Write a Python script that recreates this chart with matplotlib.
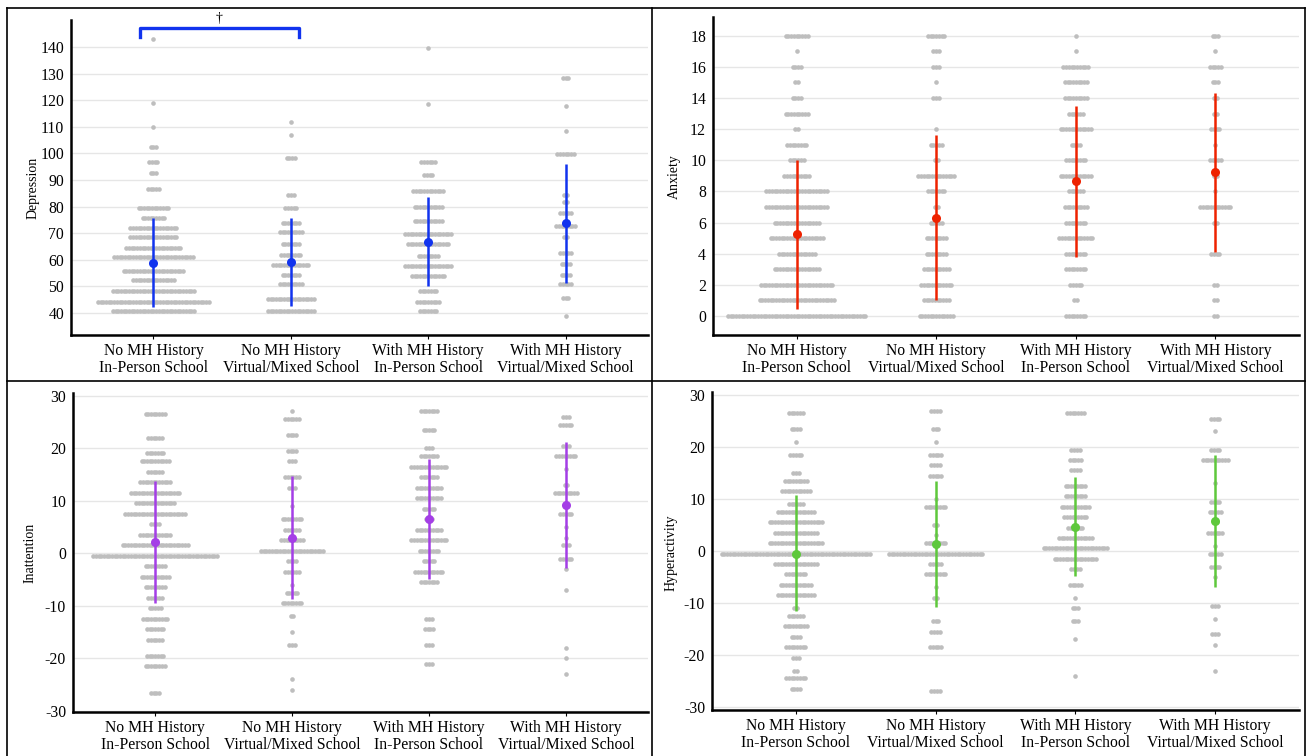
import numpy as np
import matplotlib
matplotlib.use('Agg')
import matplotlib.pyplot as plt
from matplotlib.lines import Line2D

plt.rcParams['font.family'] = ['Liberation Serif', 'DejaVu Serif']
plt.rcParams['axes.unicode_minus'] = False

# group labels
groups = ['No MH History\nIn-Person School', 'No MH History\nVirtual/Mixed School',
          'With MH History\nIn-Person School', 'With MH History\nVirtual/Mixed School']

# Depression: binned score rows and dot counts per group
dep_values = [
    [143, 119, 110, 102.5, 96.6, 92.75, 86.75, 79.6, 75.6, 72, 68.5, 64.5, 60.9, 55.75, 52.25, 48.25, 44.25, 40.75],
    [112, 107, 98.4, 84.25, 79.6, 74, 70.4, 65.9, 61.9, 58.1, 54.25, 50.9, 45.25, 40.75],
    [139.6, 118.75, 96.6, 91.75, 85.9, 80, 74.6, 69.6, 66.1, 61.6, 57.75, 54, 48.25, 44.25, 40.75],
    [128.4, 117.75, 108.4, 99.75, 84.4, 81.6, 77.75, 72.75, 68.5, 62.5, 58.5, 54.4, 50.75, 45.5, 39],
]
dep_counts = [
    [1, 1, 1, 3, 4, 3, 5, 12, 9, 18, 18, 21, 30, 23, 16, 31, 42, 31],
    [1, 1, 4, 3, 5, 7, 9, 7, 8, 14, 7, 9, 18, 18],
    [1, 1, 6, 4, 12, 11, 11, 18, 16, 8, 18, 13, 7, 9, 7],
    [3, 1, 1, 7, 2, 2, 5, 8, 2, 5, 4, 4, 5, 3, 1],
]
dep_mean = [58.9, 59.1, 66.75, 73.75]
dep_lo = [42.25, 42.75, 50.0, 51.25]
dep_hi = [75.6, 75.6, 83.75, 96.0]

# Anxiety
anx_values = [
    [18, 17, 16, 15, 14, 13, 12, 11, 10, 9, 8, 7, 6, 5, 4, 3, 2, 1, 0],
    [18, 17, 16, 15, 14, 12, 11, 10, 9, 8, 7, 6, 5, 4, 3, 2, 1, 0],
    [18, 17, 16, 15, 14, 13, 12, 11, 10, 9, 8, 7, 6, 5, 4, 3, 2, 1, 0],
    [18, 17, 16, 15, 14, 13, 12, 11, 10, 9, 8, 7, 6, 4, 2, 1, 0],
]
anx_counts = [
    [9, 1, 4, 2, 4, 9, 2, 8, 6, 10, 23, 23, 17, 20, 14, 17, 27, 28, 51],
    [7, 3, 3, 1, 3, 1, 5, 2, 14, 7, 2, 5, 8, 8, 10, 12, 10, 13],
    [1, 1, 10, 9, 9, 6, 12, 4, 8, 12, 6, 9, 8, 13, 8, 8, 5, 2, 8],
    [3, 1, 5, 3, 2, 2, 4, 1, 5, 2, 1, 12, 2, 4, 2, 2, 2],
]
anx_mean = [5.25, 6.27, 8.65, 9.25]
anx_lo = [0.43, 1.03, 3.77, 4.13]
anx_hi = [10.0, 11.6, 13.5, 14.35]

# Inattention
ina_values = [
    [26.5, 22, 19, 17.5, 15.5, 13.5, 11.5, 9.5, 7.5, 5.5, 3.5, 1.5, -0.5, -2.5, -4.5, -6.5, -8.5, -10.5,
     -12.5, -14.5, -16.5, -19.5, -21.5, -26.5],
    [27, 25.5, 22.5, 19.5, 17.5, 14.5, 12.5, 9, 6.5, 4.5, 2.5, 0.5, -1.5, -3.5, -6, -7.5, -9.5, -12, -15,
     -17.5, -24, -26],
    [27, 23.5, 20, 18.5, 16.5, 14.5, 12.5, 10.5, 8.5, 6.5, 4.5, 2.5, 0.5, -1.5, -3.5, -5.5, -12.5, -14.5,
     -17.5, -21],
    [26, 24.5, 20.5, 18.5, 16, 13, 11.5, 9.5, 7.5, 5, 3, 1.5, -1, -3, -7, -18, -20, -23],
]
ina_counts = [
    [8, 6, 7, 11, 6, 12, 19, 15, 23, 4, 12, 25, 47, 8, 11, 8, 6, 5, 10, 7, 6, 7, 8, 4],
    [1, 6, 4, 4, 3, 6, 3, 1, 8, 6, 9, 24, 4, 6, 1, 5, 8, 2, 1, 3, 1, 1],
    [7, 5, 3, 7, 14, 7, 10, 10, 5, 3, 10, 14, 8, 5, 11, 7, 3, 4, 3, 3],
    [3, 5, 3, 8, 1, 2, 9, 1, 5, 1, 1, 3, 5, 1, 1, 1, 1, 1],
]
ina_mean = [2.1, 3.0, 6.5, 9.26]
ina_lo = [-9.5, -8.7, -4.8, -2.85]
ina_hi = [13.8, 14.7, 18.0, 21.2]

# Hyperactivity
hyp_values = [
    [26.5, 23.5, 21, 18.5, 15, 13.5, 11.5, 9, 7.5, 5.5, 3.5, 1.5, -0.5, -2.5, -4.5, -6.5, -8.5, -11, -12.5,
     -14.5, -16.5, -18.5, -20.5, -23, -24.5, -26.5],
    [27, 23.5, 21, 18.5, 16.5, 14.5, 10, 8.5, 5, 3, 1.5, -0.5, -2.5, -4.5, -7, -9, -13.5, -15.5, -18.5, -27],
    [26.5, 19.5, 17.5, 15.5, 12.5, 10.5, 8.5, 6.5, 4.5, 2.5, 0.5, -1.5, -3.5, -6.5, -9, -11, -13.5, -17, -24],
    [25.5, 23, 19.5, 17.5, 13, 9.5, 7.5, 5.5, 3.5, 1, -0.5, -3, -5, -10.5, -13, -16, -18, -23],
]
hyp_counts = [
    [6, 4, 1, 5, 3, 9, 11, 6, 14, 20, 16, 20, 55, 16, 8, 12, 14, 2, 6, 9, 4, 8, 3, 2, 8, 4],
    [4, 3, 1, 5, 4, 5, 1, 8, 2, 1, 8, 35, 5, 8, 1, 2, 3, 4, 5, 4],
    [7, 4, 5, 4, 8, 8, 11, 9, 6, 13, 24, 16, 4, 5, 1, 3, 3, 1, 1],
    [4, 1, 4, 10, 1, 4, 5, 2, 6, 1, 5, 4, 1, 3, 1, 3, 1, 1],
]
hyp_mean = [-0.5, 1.35, 4.6, 5.8]
hyp_lo = [-11.5, -10.7, -4.9, -6.9]
hyp_hi = [10.8, 13.5, 14.2, 18.5]

GRAY = '#bebebe'
STEP = 0.0197  # horizontal dot spacing in group units


def dot_panel(ax, values, counts, mean, lo, hi, color, ylim, yticks, ylabel, lab_xy):
    xs, ys = [], []
    for g in range(4):
        for v, n in zip(values[g], counts[g]):
            offs = (np.arange(n) - (n - 1) / 2) * STEP
            xs.extend(g + offs)
            ys.extend([v] * n)
    ax.scatter(xs, ys, s=11, color=GRAY, lw=0, zorder=2)
    pos = np.arange(4)
    ax.vlines(pos, lo, hi, color=color, lw=1.8, zorder=3)
    ax.plot(pos, mean, 'o', color=color, ms=6.5, mec='none', zorder=4)

    ax.set_xlim(-0.6, 3.6)
    ax.set_ylim(*ylim)
    ax.set_yticks(yticks)
    ax.set_xticks(pos)
    ax.set_xticklabels(groups, fontsize=11.3, linespacing=1.1)
    ax.tick_params(axis='y', length=0, pad=5, labelsize=11.3)
    ax.tick_params(axis='x', length=3, width=0.8, pad=2.5)
    ax.grid(axis='y', color='#e6e6e6', lw=1)
    ax.set_axisbelow(True)
    for s in ['top', 'right']:
        ax.spines[s].set_visible(False)
    for s in ['left', 'bottom']:
        ax.spines[s].set_linewidth(1.8)
    ax.set_ylabel(ylabel, fontsize=10)
    ax.yaxis.set_label_coords(*lab_xy)


fig = plt.figure(figsize=(13.06, 7.56), dpi=100)
W, H = 1306, 756


def px_axes(l, t, r, b):
    return fig.add_axes([l / W, 1 - b / H, (r - l) / W, (b - t) / H])


ax1 = px_axes(71, 20, 648, 335)
ax2 = px_axes(713, 17, 1299, 335)
ax3 = px_axes(73, 393, 648, 712)
ax4 = px_axes(712, 392, 1299, 710)

dot_panel(ax1, dep_values, dep_counts, dep_mean, dep_lo, dep_hi, '#1133ee',
          (31.7, 150.2), np.arange(40, 141, 10), 'Depression', (-0.054, 0.467))
dot_panel(ax2, anx_values, anx_counts, anx_mean, anx_lo, anx_hi, '#ee2200',
          (-1.22, 19.2), np.arange(0, 19, 2), 'Anxiety', (-0.055, 0.497))
dot_panel(ax3, ina_values, ina_counts, ina_mean, ina_lo, ina_hi, '#a43ee6',
          (-30.2, 30.5), np.arange(-30, 31, 10), 'Inattention', (-0.064, 0.498))
dot_panel(ax4, hyp_values, hyp_counts, hyp_mean, hyp_lo, hyp_hi, '#5ec83c',
          (-30.6, 30.6), np.arange(-30, 31, 10), 'Hyperactivity', (-0.058, 0.494))

# significance bracket between the first two groups
ax1.plot([-0.1, -0.1, 1.06, 1.06], [143.7, 147.1, 147.1, 143.7], color='#1133ee', lw=2.4,
         solid_joinstyle='round', clip_on=False, zorder=5)
ax1.text(0.48, 148.5, '\u2020', ha='center', va='bottom', fontsize=10, clip_on=False)

# panel borders
def fig_line(x0, y0, x1, y1):
    fig.add_artist(Line2D([x0 / W, x1 / W], [1 - y0 / H, 1 - y1 / H], color='black', lw=1.2))

fig_line(7, 8, 1305, 8)
fig_line(7, 8, 7, 756)
fig_line(1305, 8, 1305, 756)
fig_line(652, 8, 652, 756)
fig_line(7, 381, 1305, 381)

fig.savefig('out.png', dpi=100)
